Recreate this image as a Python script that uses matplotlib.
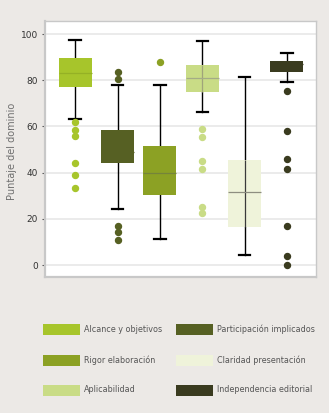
import matplotlib
matplotlib.use("Agg")
import matplotlib.pyplot as plt
from matplotlib.patches import Rectangle

# Domain names (legend order, filled row by row in two columns)
domains = ["Alcance y objetivos", "Participación implicados", "Rigor elaboración",
           "Claridad presentación", "Aplicabilidad", "Independencia editorial"]

# Box order on the x axis
box_domains = ["Alcance y objetivos", "Participación implicados", "Rigor elaboración",
               "Aplicabilidad", "Claridad presentación", "Independencia editorial"]

q1 = [77.2, 44.0, 30.2, 74.8, 16.6, 83.7]
medians = [83.0, 49.0, 39.7, 81.0, 31.5, 87.0]
q3 = [89.5, 58.4, 51.5, 86.4, 45.5, 88.3]
whisker_low = [63.2, 24.2, 11.4, 66.4, 4.3, 79.2]
whisker_high = [97.4, 78.0, 78.0, 97.0, 81.4, 91.9]
outliers = [
    [61.8, 58.4, 55.8, 44.2, 39.0, 33.3],
    [83.4, 80.7, 17.0, 14.3, 10.8],
    [87.7],
    [59.0, 55.3, 44.9, 41.6, 25.0, 22.4],
    [],
    [75.5, 58.0, 45.8, 41.4, 17.0, 3.8, 0.0],
]

yticks = [0, 20, 40, 60, 80, 100]
ylabel = "Puntaje del dominio"

colors = {
    "Alcance y objetivos": "#A7C52B",
    "Participación implicados": "#566023",
    "Rigor elaboración": "#8CA124",
    "Aplicabilidad": "#C9DC86",
    "Claridad presentación": "#EFF3DA",
    "Independencia editorial": "#3A3B1F",
}
median_colors = ["#95B125", "#566023", "#75843A", "#A4AC86", "#8E8E80", "#3A3B1F"]
through_colors = [None, None, None, "#A0A47A", "#3A3A3A", None]

bg = "#ECE9E6"
fig = plt.figure(figsize=(3.29, 4.13), dpi=100, facecolor=bg)
ax = fig.add_axes([0.137, 0.329, 0.824, 0.620])
ax.set_facecolor("white")

positions = list(range(1, len(box_domains) + 1))
stats = []
for i, name in enumerate(box_domains):
    stats.append(dict(label=name, q1=q1[i], med=medians[i], q3=q3[i],
                      whislo=whisker_low[i], whishi=whisker_high[i],
                      fliers=outliers[i]))

bp = ax.bxp(stats, positions=positions, widths=0.78, patch_artist=True,
            showfliers=True, capwidths=0.27,
            whiskerprops=dict(color="black", lw=1.0),
            capprops=dict(color="black", lw=1.6),
            boxprops=dict(lw=0),
            medianprops=dict(lw=0.9))

for i, name in enumerate(box_domains):
    c = colors[name]
    bp["boxes"][i].set_facecolor(c)
    bp["boxes"][i].set_edgecolor(c)
    bp["boxes"][i].set_zorder(3)
    bp["medians"][i].set_color(median_colors[i])
    bp["medians"][i].set_zorder(5)
    fl = bp["fliers"][i]
    fl.set_marker("o")
    fl.set_markerfacecolor(c)
    fl.set_markeredgecolor(c)
    fl.set_markersize(4.3)
    if through_colors[i]:
        ax.vlines(positions[i], q1[i], q3[i], color=through_colors[i], lw=0.9, zorder=4)

ax.set_xlim(0.29, 6.69)
ax.set_ylim(-5.2, 105.6)
ax.set_yticks(yticks)
ax.set_yticklabels([str(t) for t in yticks])
ax.set_xticks([])
ax.yaxis.grid(True, color="#E8E8E8", lw=1.2)
ax.set_axisbelow(True)
ax.tick_params(axis="y", length=2, width=0.8, color="#555555", pad=3,
               labelsize=6.5, labelcolor="#333333")
for lbl in ax.get_yticklabels():
    lbl.set_family("DejaVu Sans")

for side, sp in ax.spines.items():
    sp.set_color("#C8C8C8")
    sp.set_linewidth(1.0)
ax.spines["left"].set_linewidth(1.6)
ax.spines["bottom"].set_linewidth(1.6)

fig.text(0.036, 0.634, ylabel, rotation=90, ha="center", va="center",
         fontsize=7, color="#707070", family="DejaVu Sans")

# Legend drawn in figure pixel coordinates, two columns filled row by row
W, H = 329, 413
col_x = [43, 176]
row_y = [329, 360, 390]
patch_w, patch_h = 37, 11
for k, name in enumerate(domains):
    row = k // 2
    col = k % 2
    x0 = col_x[col]
    yc = row_y[row]
    fig.patches.append(Rectangle((x0 / W, 1 - (yc + patch_h / 2) / H),
                                 patch_w / W, patch_h / H,
                                 transform=fig.transFigure,
                                 facecolor=colors[name], edgecolor="none"))
    fig.text((x0 + patch_w + 4) / W, 1 - yc / H, name, ha="left", va="center",
             fontsize=5.8, color="#555555", family="DejaVu Sans")

fig.savefig("out.png", dpi=100, facecolor=bg)
